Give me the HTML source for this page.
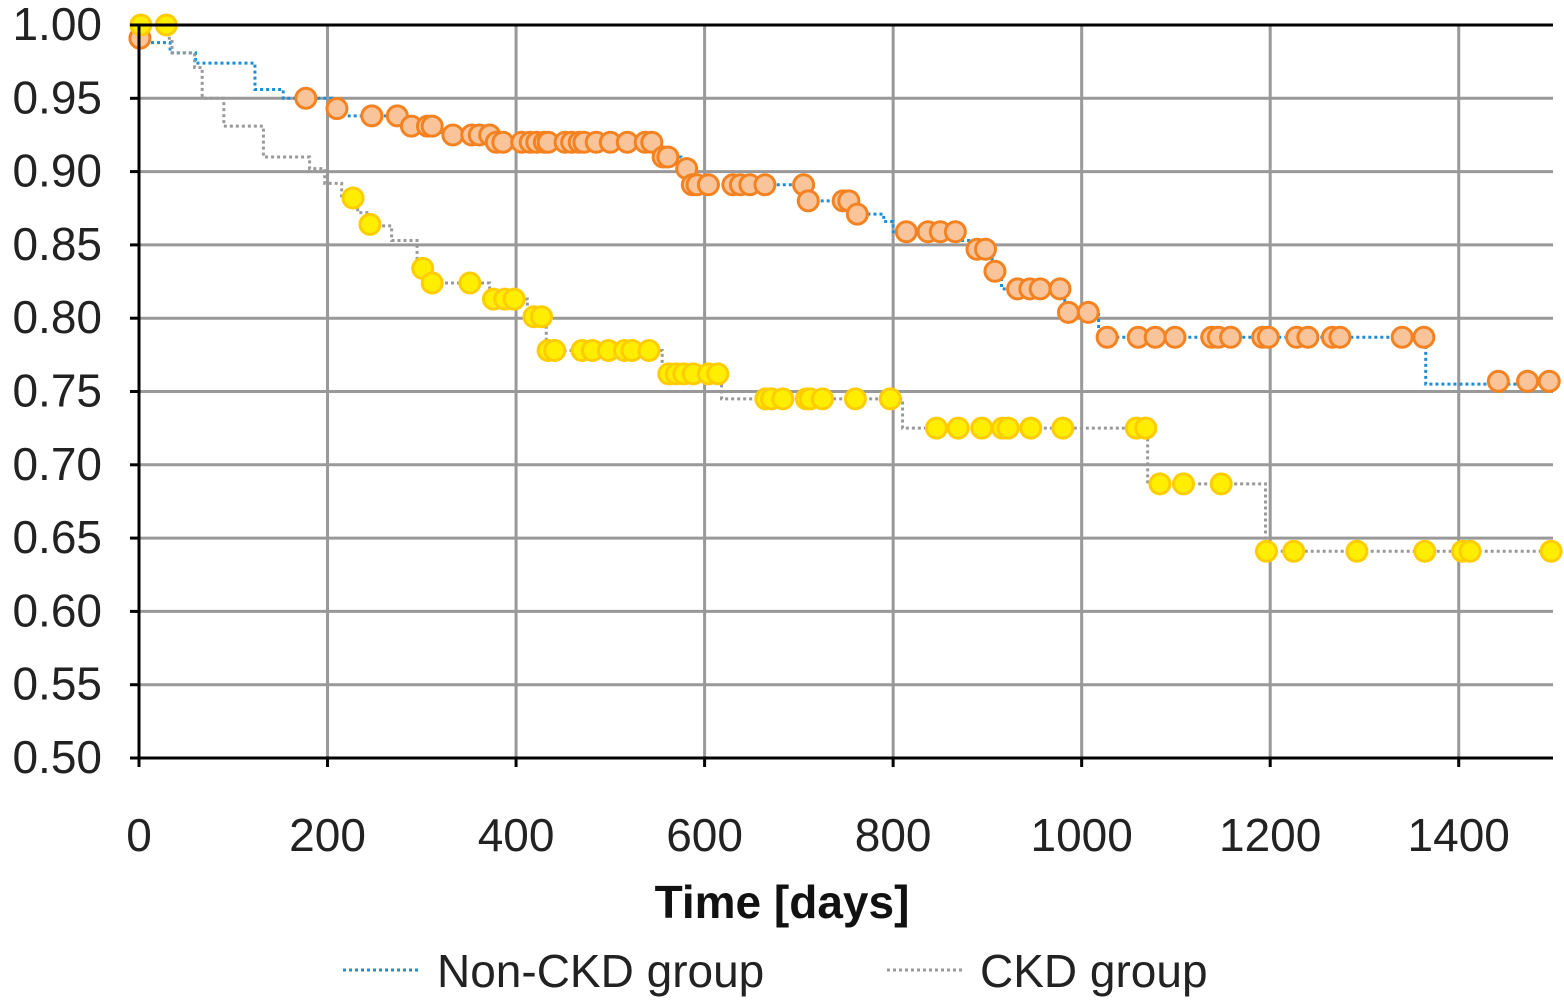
<!DOCTYPE html>
<html><head><meta charset="utf-8"><style>
body{margin:0;background:#fff;}
svg text{font-family:"Liberation Sans",sans-serif;}
</style></head><body>
<svg id="chart" width="1564" height="1002" xmlns="http://www.w3.org/2000/svg">
<g id="grid"></g>
<g id="lines"></g>
<g id="marks"></g>
<g id="axes"></g>
<text x="782" y="918" text-anchor="middle" font-size="46" font-weight="bold" fill="#111">Time [days]</text>
<g>
<g>
<line x1="343" y1="970" x2="421" y2="970" stroke="#1a8fd8" stroke-width="3" stroke-dasharray="3 3"/>
<text x="437" y="987" font-size="46" fill="#222">Non-CKD group</text></g>
<g>
<line x1="887" y1="970" x2="965" y2="970" stroke="#999" stroke-width="3" stroke-dasharray="3 3"/>
<text x="980" y="987" font-size="46" fill="#222">CKD group</text></g>
</g>
</svg>
<script>
const xTicks=[0,200,400,600,800,1000,1200,1400];
const yTicks=[0.50,0.55,0.60,0.65,0.70,0.75,0.80,0.85,0.90,0.95,1.00];
const nonCkdStepT=[0,33,60,123,153,205,215,285,320,375,550,575,585,707,758,790,800,870,885,905,915,982,1018,1365];
const nonCkdStepV=[0.988,0.981,0.974,0.956,0.950,0.943,0.938,0.931,0.925,0.920,0.910,0.902,0.891,0.880,0.871,0.866,0.859,0.853,0.847,0.832,0.820,0.804,0.787,0.755];
const ckdStepT=[0,30,35,59,67,90,132,181,197,215,232,245,268,295,305,372,412,432,555,618,810,1070,1195];
const ckdStepV=[1.0,0.991,0.981,0.971,0.950,0.931,0.910,0.902,0.892,0.882,0.872,0.863,0.853,0.834,0.824,0.813,0.801,0.778,0.762,0.745,0.725,0.687,0.641];
const nonCkdMarkT=[1,177,210,247,274,289,306,311,333,353,361,372,379,386,406,415,422,430,434,452,459,467,472,485,500,518,537,544,556,561,581,587,592,604,630,638,648,664,705,710,747,753,762,814,837,850,866,889,898,908,932,945,956,977,986,1007,1027,1060,1078,1099,1138,1145,1158,1192,1198,1228,1240,1266,1274,1340,1363,1442,1473,1496];
const nonCkdMarkV=[0.991,0.950,0.943,0.938,0.938,0.931,0.931,0.931,0.925,0.925,0.925,0.925,0.920,0.920,0.920,0.920,0.920,0.920,0.920,0.920,0.920,0.920,0.920,0.920,0.920,0.920,0.920,0.920,0.910,0.910,0.902,0.891,0.891,0.891,0.891,0.891,0.891,0.891,0.891,0.880,0.880,0.880,0.871,0.859,0.859,0.859,0.859,0.847,0.847,0.832,0.820,0.820,0.820,0.820,0.804,0.804,0.787,0.787,0.787,0.787,0.787,0.787,0.787,0.787,0.787,0.787,0.787,0.787,0.787,0.787,0.787,0.757,0.757,0.757];
const ckdMarkT=[2,29,227,245,301,311,351,376,388,398,419,427,434,441,470,481,498,515,523,541,562,570,578,588,604,614,665,671,683,708,712,725,760,797,846,869,894,916,922,946,980,1058,1068,1083,1108,1148,1196,1225,1292,1364,1404,1412,1498];
const ckdMarkV=[1.0,1.0,0.882,0.864,0.834,0.824,0.824,0.813,0.813,0.813,0.801,0.801,0.778,0.778,0.778,0.778,0.778,0.778,0.778,0.778,0.762,0.762,0.762,0.762,0.762,0.762,0.745,0.745,0.745,0.745,0.745,0.745,0.745,0.745,0.725,0.725,0.725,0.725,0.725,0.725,0.725,0.725,0.725,0.687,0.687,0.687,0.641,0.641,0.641,0.641,0.641,0.641,0.641];
const X0=139,X1=1553,Y0=758,Y1=25;
const xs=t=>X0+t*(X1-X0)/1500;
const ys=v=>Y0-(v-0.5)*(Y0-Y1)/0.5;
const NS="http://www.w3.org/2000/svg";
function mk(tag,attrs,parent){const e=document.createElementNS(NS,tag);for(const k in attrs)e.setAttribute(k,attrs[k]);parent.appendChild(e);return e;}
const grid=document.getElementById('grid'),axes=document.getElementById('axes'),lines=document.getElementById('lines'),marks=document.getElementById('marks');
yTicks.forEach(v=>{
 const g=mk('line',{x1:X0,x2:X1,y1:ys(v),y2:ys(v),stroke:'#999','stroke-width':3},grid);
 
 
 const tk=mk('line',{x1:X0-9,x2:X0,y1:ys(v),y2:ys(v),stroke:'#000','stroke-width':3},axes);
 
 
 const t=mk('text',{x:102,y:ys(v)+15,'text-anchor':'end','font-size':46,fill:'#222'},axes);
 t.textContent=v.toFixed(2);
 
 
});
xTicks.forEach(v=>{
 if(v>0){const g=mk('line',{x1:xs(v),x2:xs(v),y1:Y1,y2:Y0,stroke:'#999','stroke-width':3},grid);
 
 }
 const tk=mk('line',{x1:xs(v),x2:xs(v),y1:Y0,y2:Y0+9,stroke:'#000','stroke-width':3},axes);
 
 
 const t=mk('text',{x:xs(v),y:851,'text-anchor':'middle','font-size':46,fill:'#222'},axes);
 t.textContent=v;
 
 
});
const ax=mk('path',{d:`M${X0},${Y0+9}V${Y1}H${X1}M${X0},${Y0}H${X1}`,stroke:'#000','stroke-width':3,fill:'none'},axes);


function stepPath(T,V){let d=`M${xs(T[0])},${ys(V[0])}`;for(let i=1;i<T.length;i++){d+=`H${xs(T[i])}V${ys(V[i])}`;}d+=`H${xs(1500)}`;return d;}
const l1=mk('path',{d:stepPath(nonCkdStepT,nonCkdStepV),stroke:'#1a8fd8','stroke-width':3,'stroke-dasharray':'3 3',fill:'none'},lines);


const l2=mk('path',{d:stepPath(ckdStepT,ckdStepV),stroke:'#999','stroke-width':3,'stroke-dasharray':'3 3',fill:'none'},lines);


nonCkdMarkT.forEach((t,i)=>{
 const c=mk('circle',{cx:xs(t),cy:ys(nonCkdMarkV[i]),r:10,fill:'#f9c49a',stroke:'#f58220','stroke-width':3},marks);
 
 
});
ckdMarkT.forEach((t,i)=>{
 const c=mk('circle',{cx:xs(t),cy:ys(ckdMarkV[i]),r:10,fill:'#ffee00',stroke:'#ffcc00','stroke-width':3},marks);
 
 
});
</script>
</body></html>
